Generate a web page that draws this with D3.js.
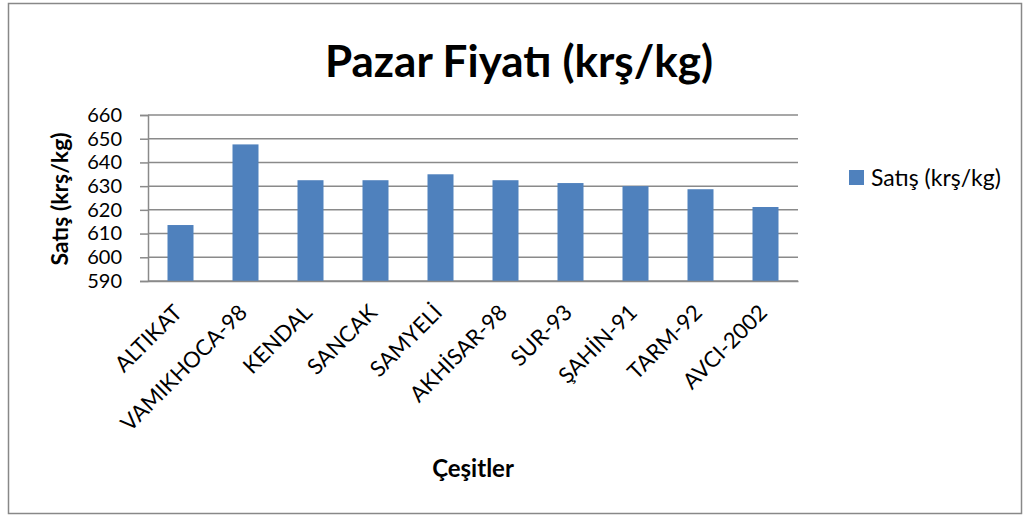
<!DOCTYPE html>
<html>
<head>
<meta charset="utf-8">
<title>Pazar Fiyatı</title>
<script src="https://d3js.org/d3.v7.min.js"></script>
<style>
  * { margin: 0; padding: 0; }
  body { background: #fff; }
  text { font-family: Lato, "Open Sans", sans-serif; fill: #000; }
</style>
</head>
<body>
<div id="chart"></div>
<script>
// veriler
const categories = ["ALTIKAT", "VAMIKHOCA-98", "KENDAL", "SANCAK", "SAMYELİ",
                    "AKHİSAR-98", "SUR-93", "ŞAHİN-91", "TARM-92", "AVCI-2002"];
const satis = [613.6, 647.6, 632.5, 632.5, 635.0, 632.5, 631.3, 630.0, 628.7, 621.2];
const yTicks = [590, 600, 610, 620, 630, 640, 650, 660];

const W = 1026, H = 517;
const plot = { left: 148, right: 798, top: 115, bottom: 281 };

const svg = d3.select("#chart").append("svg")
  .attr("width", W).attr("height", H);

// dış çerçeve
svg.append("rect")
  .attr("x", 8.5).attr("y", 3.5)
  .attr("width", 1013).attr("height", 510)
  .attr("fill", "#fff").attr("stroke", "#888").attr("stroke-width", 1.5);

const x = d3.scaleBand()
  .domain(categories)
  .range([plot.left, plot.right])
  .paddingInner(0.6).paddingOuter(0.3);

const y = d3.scaleLinear()
  .domain([590, 660])
  .range([plot.bottom, plot.top]);

// yatay ızgara çizgileri
svg.append("g")
  .selectAll("line")
  .data(yTicks)
  .join("line")
  .attr("x1", plot.left).attr("x2", plot.right)
  .attr("y1", d => y(d)).attr("y2", d => y(d))
  .attr("stroke", "#8a8a8a").attr("stroke-width", 1.5);

// y ekseni
const yAxis = svg.append("g")
  .attr("transform", `translate(${plot.left},0)`)
  .call(d3.axisLeft(y).tickValues(yTicks).tickSize(8).tickPadding(18));
yAxis.select(".domain").attr("stroke", "#8a8a8a").attr("stroke-width", 1.5);
yAxis.selectAll(".tick line").attr("stroke", "#8a8a8a").attr("stroke-width", 1.5);
yAxis.selectAll(".tick text")
  .style("font-family", "Lato, sans-serif").style("font-size", "20px").attr("fill", "#000");

// çubuklar
svg.append("g")
  .selectAll("rect")
  .data(satis)
  .join("rect")
  .attr("x", (d, i) => x(categories[i]))
  .attr("y", d => y(d))
  .attr("width", x.bandwidth())
  .attr("height", d => y(590) - y(d))
  .attr("fill", "#4F81BD");

// x ekseni
const xAxis = svg.append("g")
  .attr("transform", `translate(0,${plot.bottom})`)
  .call(d3.axisBottom(x).tickSize(0).tickSizeOuter(0));
xAxis.select(".domain").attr("stroke", "#8a8a8a").attr("stroke-width", 1.5);
xAxis.selectAll(".tick text")
  .style("font-family", "Lato, sans-serif").style("font-size", "22px").attr("fill", "#000")
  .attr("text-anchor", "end")
  .attr("dy", 0)
  .attr("y", 0)
  .attr("transform", "translate(3,33) rotate(-45)");

// başlık
svg.append("text")
  .attr("x", 519).attr("y", 77)
  .attr("text-anchor", "middle")
  .style("font-size", "44px").style("font-weight", "bold")
  .text("Pazar Fiyatı (krş/kg)");

// y ekseni başlığı
svg.append("text")
  .attr("transform", "translate(68,199) rotate(-90)")
  .attr("text-anchor", "middle")
  .style("font-size", "23px").style("font-weight", "bold")
  .text("Satış (krş/kg)");

// x ekseni başlığı
svg.append("text")
  .attr("x", 473).attr("y", 477)
  .attr("text-anchor", "middle")
  .style("font-size", "24px").style("font-weight", "bold")
  .text("Çeşitler");

// lejant
const legend = svg.append("g").attr("transform", "translate(849,170)");
legend.append("rect").attr("width", 15).attr("height", 15).attr("fill", "#4F81BD");
legend.append("text").attr("x", 22).attr("y", 16)
  .style("font-size", "23px").text("Satış (krş/kg)");
</script>
</body>
</html>
